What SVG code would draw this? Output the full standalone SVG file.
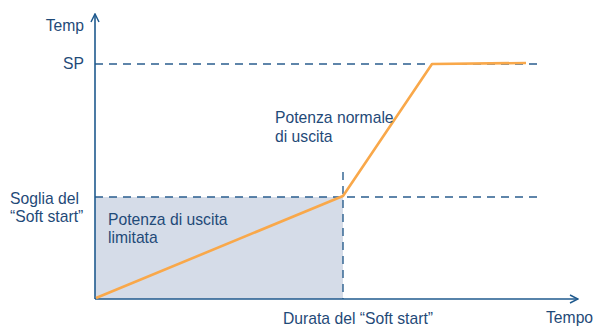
<svg xmlns="http://www.w3.org/2000/svg" width="594" height="328" viewBox="0 0 594 328">
<style>
text{font-family:"Liberation Sans",Arial,sans-serif;font-size:15.7px;fill:#1f4a78}
.ax{stroke:#1f5a8e;stroke-width:1.6;fill:none}
.dash{stroke:#2a5e8e;stroke-width:1.4;stroke-dasharray:8,6;fill:none}
.curve{stroke:#f9a84a;stroke-width:2.6;fill:none;stroke-linejoin:round}
</style>
<defs>
<marker id="arr" viewBox="0 0 10 10" refX="9" refY="5" markerWidth="10" markerHeight="10" markerUnits="userSpaceOnUse" orient="auto">
<path d="M1,1 L9,5 L1,9" fill="none" stroke="#1f5a8e" stroke-width="1.5"/>
</marker>
</defs>
<g id="region-limited">
<rect x="95" y="197" width="248" height="102" fill="#d5dce8"/>
</g>
<g id="connectors">
<line class="dash" x1="95" y1="64" x2="538" y2="64"/>
<line class="dash" x1="95" y1="197" x2="538" y2="197"/>
<line class="dash" x1="343" y1="172" x2="343" y2="299"/>
<line class="ax" x1="95" y1="299" x2="95" y2="14" marker-end="url(#arr)"/>
<line class="ax" x1="95" y1="299" x2="578" y2="299" marker-end="url(#arr)"/>
<polyline class="curve" points="96,298 343,196 432,64 526,63"/>
</g>
<g id="labels">
<text x="84" y="31" text-anchor="end">Temp</text>
<text x="84" y="69" text-anchor="end">SP</text>
<text x="10" y="204">Soglia del</text>
<text x="10" y="222">“Soft start”</text>
<text x="108" y="225">Potenza di uscita</text>
<text x="108" y="243">limitata</text>
<text x="275" y="123">Potenza normale</text>
<text x="275" y="142">di uscita</text>
<text x="283" y="324">Durata del “Soft start”</text>
<text x="546" y="323">Tempo</text>
</g>
</svg>
